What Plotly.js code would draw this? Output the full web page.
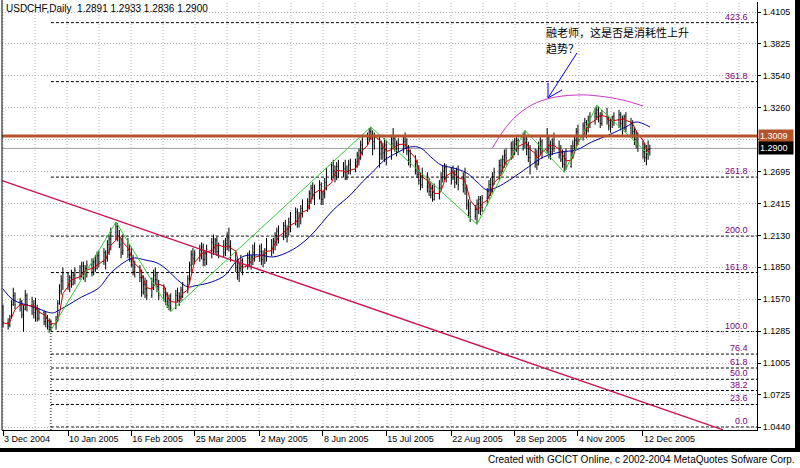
<!DOCTYPE html>
<html><head><meta charset="utf-8">
<script src="https://cdn.plot.ly/plotly-3.0.1.min.js"></script>
<style>html,body{margin:0;padding:0;background:#fff}#chart{width:800px;height:468px}</style>
</head><body><div id="chart"></div><script>
// ---------- DATA (daily USDCHF bars) ----------
const dates = [
'2004-12-03','2004-12-06','2004-12-07','2004-12-08','2004-12-09','2004-12-10','2004-12-13','2004-12-14','2004-12-15','2004-12-16','2004-12-17','2004-12-20','2004-12-21','2004-12-22','2004-12-23','2004-12-24','2004-12-27','2004-12-28','2004-12-29','2004-12-30','2004-12-31',
'2005-01-03','2005-01-04','2005-01-05','2005-01-06','2005-01-07','2005-01-10','2005-01-11','2005-01-12','2005-01-13','2005-01-14','2005-01-17','2005-01-18','2005-01-19','2005-01-20','2005-01-21','2005-01-24','2005-01-25','2005-01-26','2005-01-27','2005-01-28','2005-01-31',
'2005-02-01','2005-02-02','2005-02-03','2005-02-04','2005-02-07','2005-02-08','2005-02-09','2005-02-10','2005-02-11','2005-02-14','2005-02-15','2005-02-16','2005-02-17','2005-02-18','2005-02-21','2005-02-22','2005-02-23','2005-02-24','2005-02-25','2005-02-28',
'2005-03-01','2005-03-02','2005-03-03','2005-03-04','2005-03-07','2005-03-08','2005-03-09','2005-03-10','2005-03-11','2005-03-14','2005-03-15','2005-03-16','2005-03-17','2005-03-18','2005-03-21','2005-03-22','2005-03-23','2005-03-24','2005-03-25','2005-03-28','2005-03-29','2005-03-30','2005-03-31',
'2005-04-01','2005-04-04','2005-04-05','2005-04-06','2005-04-07','2005-04-08','2005-04-11','2005-04-12','2005-04-13','2005-04-14','2005-04-15','2005-04-18','2005-04-19','2005-04-20','2005-04-21','2005-04-22','2005-04-25','2005-04-26','2005-04-27','2005-04-28','2005-04-29',
'2005-05-02','2005-05-03','2005-05-04','2005-05-05','2005-05-06','2005-05-09','2005-05-10','2005-05-11','2005-05-12','2005-05-13','2005-05-16','2005-05-17','2005-05-18','2005-05-19','2005-05-20','2005-05-23','2005-05-24','2005-05-25','2005-05-26','2005-05-27','2005-05-30','2005-05-31',
'2005-06-01','2005-06-02','2005-06-03','2005-06-06','2005-06-07','2005-06-08','2005-06-09','2005-06-10','2005-06-13','2005-06-14','2005-06-15','2005-06-16','2005-06-17','2005-06-20','2005-06-21','2005-06-22','2005-06-23','2005-06-24','2005-06-27','2005-06-28','2005-06-29','2005-06-30',
'2005-07-01','2005-07-04','2005-07-05','2005-07-06','2005-07-07','2005-07-08','2005-07-11','2005-07-12','2005-07-13','2005-07-14','2005-07-15','2005-07-18','2005-07-19','2005-07-20','2005-07-21','2005-07-22','2005-07-25','2005-07-26','2005-07-27','2005-07-28','2005-07-29',
'2005-08-01','2005-08-02','2005-08-03','2005-08-04','2005-08-05','2005-08-08','2005-08-09','2005-08-10','2005-08-11','2005-08-12','2005-08-15','2005-08-16','2005-08-17','2005-08-18','2005-08-19','2005-08-22','2005-08-23','2005-08-24','2005-08-25','2005-08-26','2005-08-29','2005-08-30','2005-08-31',
'2005-09-01','2005-09-02','2005-09-05','2005-09-06','2005-09-07','2005-09-08','2005-09-09','2005-09-12','2005-09-13','2005-09-14','2005-09-15','2005-09-16','2005-09-19','2005-09-20','2005-09-21','2005-09-22','2005-09-23','2005-09-26','2005-09-27','2005-09-28','2005-09-29','2005-09-30',
'2005-10-03','2005-10-04','2005-10-05','2005-10-06','2005-10-07','2005-10-10','2005-10-11','2005-10-12','2005-10-13','2005-10-14','2005-10-17','2005-10-18','2005-10-19','2005-10-20','2005-10-21','2005-10-24','2005-10-25','2005-10-26','2005-10-27','2005-10-28','2005-10-31',
'2005-11-01','2005-11-02','2005-11-03','2005-11-04','2005-11-07','2005-11-08','2005-11-09','2005-11-10','2005-11-11','2005-11-14','2005-11-15','2005-11-16','2005-11-17','2005-11-18','2005-11-21','2005-11-22','2005-11-23','2005-11-24','2005-11-25','2005-11-28','2005-11-29','2005-11-30',
'2005-12-01','2005-12-02','2005-12-05','2005-12-06','2005-12-07','2005-12-08','2005-12-09','2005-12-12','2005-12-13','2005-12-14','2005-12-15','2005-12-16'
];
const opens = [
1.150,1.136,1.134,1.141,1.152,1.160,1.152,1.155,1.143,1.148,1.160,1.152,1.150,1.145,1.148,1.140,1.145,1.137,1.140,1.133,1.130,
1.135,1.139,1.153,1.164,1.173,1.180,1.170,1.176,1.170,1.178,1.182,1.177,1.186,1.180,1.184,1.187,1.181,1.190,1.184,1.195,1.190,
1.198,1.193,1.205,1.210,1.216,1.221,1.212,1.205,1.198,1.200,1.196,1.192,1.187,1.181,1.185,1.176,1.163,1.170,1.166,1.160,
1.170,1.178,1.174,1.168,1.160,1.163,1.155,1.151,1.156,1.149,1.160,1.156,1.159,1.165,1.170,1.175,1.187,1.196,1.193,1.197,1.200,1.203,1.192,
1.197,1.201,1.207,1.205,1.209,1.199,1.204,1.198,1.206,1.211,1.203,1.192,1.185,1.178,1.184,1.191,1.186,1.193,1.189,1.194,1.198,
1.195,1.199,1.192,1.196,1.200,1.208,1.203,1.208,1.213,1.217,1.219,1.222,1.215,1.219,1.225,1.230,1.234,1.226,1.231,1.237,1.241,1.243,
1.250,1.255,1.249,1.255,1.258,1.245,1.250,1.260,1.268,1.275,1.270,1.266,1.274,1.268,1.272,1.264,1.270,1.276,1.272,1.278,1.284,1.288,
1.293,1.298,1.300,1.305,1.302,1.296,1.300,1.285,1.290,1.286,1.293,1.282,1.294,1.299,1.290,1.294,1.290,1.296,1.293,1.288,1.280,
1.276,1.271,1.267,1.262,1.258,1.266,1.256,1.252,1.249,1.245,1.250,1.255,1.264,1.270,1.273,1.266,1.270,1.268,1.260,1.265,1.258,1.263,1.255,
1.240,1.233,1.230,1.236,1.241,1.245,1.238,1.246,1.252,1.258,1.255,1.265,1.269,1.275,1.270,1.280,1.284,1.282,1.290,1.288,1.294,1.297,
1.290,1.300,1.295,1.290,1.282,1.278,1.284,1.276,1.290,1.296,1.288,1.300,1.292,1.287,1.294,1.290,1.284,1.280,1.276,1.281,1.274,
1.287,1.292,1.297,1.305,1.302,1.310,1.313,1.306,1.315,1.318,1.321,1.324,1.318,1.312,1.320,1.316,1.310,1.314,1.318,1.315,1.320,1.312,
1.316,1.318,1.308,1.312,1.305,1.298,1.303,1.294,1.287,1.282,1.285,1.2891
];
const highs = [
1.152,1.140,1.143,1.156,1.167,1.163,1.158,1.156,1.152,1.165,1.162,1.159,1.156,1.158,1.152,1.149,1.147,1.146,1.143,1.140,1.139,
1.142,1.156,1.170,1.178,1.185,1.181,1.178,1.183,1.181,1.185,1.187,1.190,1.190,1.187,1.191,1.193,1.193,1.196,1.199,1.200,1.202,
1.200,1.209,1.214,1.220,1.225,1.224,1.218,1.211,1.214,1.211,1.205,1.202,1.196,1.191,1.187,1.183,1.178,1.176,1.174,1.176,
1.183,1.185,1.181,1.174,1.170,1.167,1.163,1.161,1.162,1.165,1.167,1.163,1.168,1.172,1.178,1.190,1.200,1.202,1.200,1.205,1.207,1.206,1.200,
1.205,1.211,1.214,1.211,1.212,1.207,1.209,1.211,1.216,1.220,1.209,1.200,1.193,1.190,1.196,1.193,1.198,1.200,1.196,1.205,1.207,
1.205,1.206,1.200,1.202,1.211,1.210,1.211,1.216,1.220,1.222,1.225,1.227,1.222,1.229,1.234,1.238,1.237,1.234,1.240,1.245,1.246,1.253,
1.258,1.260,1.258,1.262,1.260,1.253,1.264,1.273,1.278,1.280,1.275,1.278,1.280,1.278,1.280,1.275,1.280,1.281,1.281,1.287,1.290,1.297,
1.302,1.304,1.308,1.309,1.306,1.304,1.302,1.297,1.295,1.299,1.297,1.302,1.308,1.302,1.297,1.299,1.300,1.304,1.299,1.293,1.289,
1.284,1.280,1.275,1.269,1.273,1.269,1.264,1.260,1.258,1.259,1.262,1.269,1.275,1.277,1.276,1.273,1.275,1.271,1.273,1.275,1.269,1.273,1.258,
1.245,1.243,1.240,1.245,1.248,1.248,1.249,1.255,1.262,1.264,1.269,1.273,1.280,1.281,1.284,1.289,1.290,1.296,1.297,1.299,1.302,1.299,
1.304,1.306,1.302,1.296,1.293,1.290,1.289,1.296,1.302,1.298,1.308,1.302,1.297,1.299,1.304,1.297,1.293,1.289,1.287,1.290,1.293,
1.297,1.302,1.308,1.311,1.313,1.317,1.315,1.319,1.322,1.326,1.328,1.327,1.322,1.324,1.326,1.319,1.317,1.319,1.322,1.324,1.322,1.319,
1.320,1.322,1.317,1.315,1.308,1.306,1.304,1.297,1.295,1.293,1.297,1.2933
];
const lows = [
1.132,1.130,1.132,1.140,1.151,1.148,1.146,1.140,1.128,1.147,1.146,1.143,1.140,1.137,1.137,1.138,1.134,1.132,1.130,1.127,1.129,
1.130,1.137,1.152,1.161,1.165,1.165,1.163,1.167,1.169,1.170,1.174,1.176,1.174,1.172,1.176,1.177,1.178,1.181,1.183,1.185,1.187,
1.183,1.190,1.196,1.200,1.209,1.208,1.202,1.193,1.196,1.193,1.190,1.185,1.178,1.176,1.172,1.159,1.161,1.158,1.156,1.158,
1.165,1.170,1.163,1.156,1.155,1.152,1.149,1.147,1.146,1.148,1.154,1.151,1.155,1.158,1.162,1.170,1.181,1.187,1.188,1.190,1.192,1.186,1.186,
1.187,1.193,1.196,1.197,1.195,1.193,1.194,1.195,1.200,1.199,1.190,1.181,1.174,1.172,1.181,1.178,1.183,1.185,1.183,1.187,1.190,
1.190,1.187,1.185,1.188,1.190,1.195,1.197,1.200,1.204,1.206,1.209,1.211,1.207,1.213,1.216,1.222,1.220,1.220,1.223,1.229,1.234,1.236,
1.241,1.245,1.240,1.245,1.240,1.240,1.246,1.253,1.262,1.264,1.260,1.262,1.264,1.265,1.262,1.262,1.267,1.267,1.269,1.273,1.275,1.280,
1.284,1.293,1.296,1.298,1.284,1.289,1.273,1.280,1.280,1.278,1.275,1.280,1.289,1.287,1.283,1.286,1.286,1.290,1.284,1.275,1.273,
1.267,1.264,1.258,1.253,1.255,1.251,1.248,1.246,1.243,1.244,1.245,1.253,1.260,1.262,1.260,1.258,1.262,1.255,1.258,1.253,1.251,1.249,1.236,
1.229,1.225,1.227,1.223,1.232,1.231,1.234,1.240,1.245,1.248,1.251,1.258,1.262,1.267,1.269,1.273,1.275,1.280,1.281,1.284,1.287,1.284,
1.288,1.290,1.284,1.278,1.267,1.273,1.271,1.275,1.284,1.281,1.286,1.281,1.280,1.284,1.287,1.281,1.278,1.273,1.269,1.271,1.273,
1.281,1.287,1.290,1.293,1.297,1.302,1.299,1.304,1.308,1.311,1.315,1.313,1.308,1.310,1.311,1.306,1.304,1.308,1.310,1.308,1.306,1.302,
1.306,1.304,1.301,1.299,1.293,1.290,1.287,1.281,1.278,1.275,1.280,1.2836
];
const closes = [
1.136,1.134,1.141,1.152,1.160,1.152,1.155,1.143,1.148,1.160,1.152,1.150,1.145,1.148,1.140,1.145,1.137,1.140,1.133,1.130,1.135,
1.139,1.153,1.164,1.173,1.180,1.170,1.176,1.170,1.178,1.182,1.177,1.186,1.180,1.184,1.187,1.181,1.190,1.184,1.195,1.190,1.198,
1.193,1.205,1.210,1.216,1.221,1.212,1.205,1.198,1.200,1.196,1.192,1.187,1.181,1.185,1.176,1.163,1.170,1.166,1.160,1.170,
1.178,1.174,1.168,1.160,1.163,1.155,1.151,1.156,1.149,1.160,1.156,1.159,1.165,1.170,1.175,1.187,1.196,1.193,1.197,1.200,1.203,1.192,1.197,
1.201,1.207,1.205,1.209,1.199,1.204,1.198,1.206,1.211,1.203,1.192,1.185,1.178,1.184,1.191,1.186,1.193,1.189,1.194,1.198,1.195,
1.199,1.192,1.196,1.200,1.208,1.203,1.208,1.213,1.217,1.219,1.222,1.215,1.219,1.225,1.230,1.234,1.226,1.231,1.237,1.241,1.243,1.250,
1.255,1.249,1.255,1.258,1.245,1.250,1.260,1.268,1.275,1.270,1.266,1.274,1.268,1.272,1.264,1.270,1.276,1.272,1.278,1.284,1.288,1.293,
1.298,1.300,1.305,1.302,1.296,1.300,1.285,1.290,1.286,1.293,1.282,1.294,1.299,1.290,1.294,1.290,1.296,1.293,1.288,1.280,1.276,
1.271,1.267,1.262,1.258,1.266,1.256,1.252,1.249,1.245,1.250,1.255,1.264,1.270,1.273,1.266,1.270,1.268,1.260,1.265,1.258,1.263,1.255,1.240,
1.233,1.230,1.236,1.241,1.245,1.238,1.246,1.252,1.258,1.255,1.265,1.269,1.275,1.270,1.280,1.284,1.282,1.290,1.288,1.294,1.297,1.290,
1.300,1.295,1.290,1.282,1.278,1.284,1.276,1.290,1.296,1.288,1.300,1.292,1.287,1.294,1.290,1.284,1.280,1.276,1.281,1.274,1.287,
1.292,1.297,1.305,1.302,1.310,1.313,1.306,1.315,1.318,1.321,1.324,1.318,1.312,1.320,1.316,1.310,1.314,1.318,1.315,1.320,1.312,1.316,
1.318,1.308,1.312,1.305,1.298,1.303,1.294,1.287,1.282,1.285,1.289,1.2900
];
// slow moving average (blue)
const blueDates = ['2004-12-03','2004-12-09','2004-12-21','2005-01-01','2005-01-05','2005-01-18','2005-01-28','2005-02-04','2005-02-14','2005-02-18','2005-02-24','2005-03-03','2005-03-09','2005-03-15','2005-03-21','2005-03-25','2005-04-04','2005-04-12','2005-04-18','2005-04-23','2005-05-02','2005-05-10','2005-05-21','2005-05-31','2005-06-14','2005-06-24','2005-07-01','2005-07-07','2005-07-14','2005-07-21','2005-07-29','2005-08-04','2005-08-10','2005-08-16','2005-08-23','2005-08-31','2005-09-06','2005-09-12','2005-09-18','2005-09-25','2005-10-06','2005-10-15','2005-10-25','2005-11-03','2005-11-12','2005-11-22','2005-12-02','2005-12-08','2005-12-16'];
const blueVals = [1.1659,1.1562,1.1500,1.1447,1.1474,1.1588,1.1668,1.1800,1.1915,1.1933,1.1915,1.1889,1.1827,1.1739,1.1677,1.1686,1.1721,1.1783,1.1898,1.1950,1.1959,1.1942,1.2004,1.2118,1.2357,1.2489,1.2604,1.2692,1.2798,1.2860,1.2913,1.2904,1.2825,1.2754,1.2728,1.2683,1.2604,1.2533,1.2560,1.2621,1.2736,1.2825,1.2869,1.2886,1.2957,1.3019,1.3090,1.3134,1.3090];
const fastPeriod = 5;
// zigzag swing points
const zzDates = ['2004-12-30','2005-02-07','2005-03-11','2005-07-06','2005-09-06','2005-10-04','2005-10-27','2005-11-15','2005-12-16'];
const zzVals  = [1.127,1.225,1.146,1.309,1.223,1.306,1.269,1.328,1.2836];
// long red trend line
const trendDates = ['2004-12-02 12:00','2006-01-27 19:00'];
const trendVals  = [1.2615,1.0415];
// magenta hand-drawn arc
const arcDates = ['2005-09-15','2005-09-25','2005-10-05','2005-10-17','2005-11-03','2005-11-16','2005-11-30','2005-12-12'];
const arcVals  = [1.2904,1.3125,1.3257,1.3337,1.3372,1.3363,1.3328,1.3275];
// blue arrow (tail -> head)
const arrowDates = ['2005-11-03 10:00','2005-10-17 12:00'];
const arrowVals  = [1.3743,1.3346];
// Fibonacci expansion
const fibStartDate = '2004-12-31';
const fibZero = 1.0440, fibHundred = 1.1283;
const fibLevels = [0,23.6,38.2,50,61.8,76.4,100,161.8,200,261.8,361.8,423.6];
const fibLabels = ['0.0','23.6','38.2','50.0','61.8','76.4','100.0','161.8','200.0','261.8','361.8','423.6'];
// horizontal lines
const resistLevel = 1.3009;
const bidLevel = 1.2900;
// axis ticks
const yTickVals = [1.4105,1.3825,1.3540,1.3260,1.2975,1.2695,1.2415,1.2130,1.1850,1.1570,1.1285,1.1005,1.0725,1.0440];
const yTickText = ['1.4105','1.3825','1.3540','1.3260','','1.2695','1.2415','1.2130','1.1850','1.1570','1.1285','1.1005','1.0725','1.0440'];
const xTickVals = ['2004-12-03','2005-01-10','2005-02-16','2005-03-25','2005-05-02','2005-06-08','2005-07-15','2005-08-22','2005-09-28','2005-11-04','2005-12-12'];
const xTickText = ['3 Dec 2004','10 Jan 2005','16 Feb 2005','25 Mar 2005','2 May 2005','8 Jun 2005','15 Jul 2005','22 Aug 2005','28 Sep 2005','4 Nov 2005','12 Dec 2005'];
const titleText = 'USDCHF,Daily\u00a0 1.2891 1.2933 1.2836 1.2900';
const noteLine1 = '融老师，这是否是消耗性上升';
const noteLine2 = '趋势？';
const footerText = 'Created with GCICT Online, c 2002-2004 MetaQuotes Sofware Corp.';

// ---------- helpers (layout geometry only) ----------
const T0 = Date.UTC(2004,11,3), PXD = 1.7112;
function pxDate(px){ return new Date(T0 + (px-3)/PXD*864e5).toISOString().slice(0,19).replace('T',' '); }
const PL = 2, PR = 757, PT = 2, PB = 430;
const px2paperX = px => (px-PL)/(PR-PL);
const px2paperY = py => (PB-py)/(PB-PT);
const FONT = 'Liberation Sans, Arial, sans-serif';

// fast moving average (red) from closes
const fastMA = closes.map((c,i)=>{ const s = Math.max(0,i-fastPeriod+1); let t=0; for(let j=s;j<=i;j++) t+=closes[j]; return t/(i-s+1); });

const yMin = 1.04135, yMax = 1.41933;
const fibPrice = l => fibZero + l/100*(fibHundred-fibZero);
const xEnd = pxDate(PR);

const traces = [
  {type:'ohlc', x:dates, open:opens, high:highs, low:lows, close:closes,
   increasing:{line:{color:'#000',width:1}}, decreasing:{line:{color:'#000',width:1}},
   tickwidth:0.35, hoverinfo:'skip', showlegend:false},
  {type:'scatter', mode:'lines', x:blueDates, y:blueVals, line:{color:'#0000a0',width:1,shape:'spline',smoothing:1}, hoverinfo:'skip', showlegend:false},
  {type:'scatter', mode:'lines', x:dates, y:fastMA, line:{color:'#d00000',width:1}, hoverinfo:'skip', showlegend:false},
  {type:'scatter', mode:'lines', x:zzDates, y:zzVals, line:{color:'#33cc33',width:1}, hoverinfo:'skip', showlegend:false},
  {type:'scatter', mode:'lines', x:trendDates, y:trendVals, line:{color:'#cc1048',width:1.3}, hoverinfo:'skip', showlegend:false},
  {type:'scatter', mode:'lines', x:arcDates, y:arcVals, line:{color:'#cc33cc',width:1,shape:'spline',smoothing:1.1}, hoverinfo:'skip', showlegend:false},
  {type:'scatter', mode:'lines', x:arrowDates, y:arrowVals, line:{color:'#0000ff',width:1}, hoverinfo:'skip', showlegend:false}
];

const shapes = [];
// vertical dotted grid every 32px
for (let px = 3; px <= PR; px += 32) {
  shapes.push({type:'line', xref:'x', yref:'paper', x0:pxDate(px), x1:pxDate(px), y0:0, y1:1,
    line:{color:'#b4b4b4', width:1, dash:'1px,2px'}, layer:'below'});
}
// fib lines
fibLevels.forEach(l => shapes.push({type:'line', xref:'x', yref:'y', x0:fibStartDate, x1:xEnd, y0:fibPrice(l), y1:fibPrice(l),
  line:{color:'#000', width:1, dash:'3px,2px'}, layer:'below'}));
shapes.push({type:'line', xref:'x', yref:'y', x0:fibStartDate, x1:fibStartDate, y0:yMin, y1:1.139,
  line:{color:'#000', width:1, dash:'1px,2px'}, layer:'below'});
// bid line & resistance
shapes.push({type:'line', xref:'paper', yref:'y', x0:0, x1:1, y0:bidLevel, y1:bidLevel, line:{color:'#a0a0a0', width:1}, layer:'below'});
shapes.push({type:'line', xref:'paper', yref:'y', x0:0, x1:1, y0:resistLevel, y1:resistLevel, line:{color:'#b5532a', width:3}, layer:'above'});
// arrow head (open V)
shapes.push({type:'path', xref:'x', yref:'y', xsizemode:'pixel', ysizemode:'pixel', xanchor:arrowDates[1], yanchor:arrowVals[1],
  path:'M0,15 L0,0 L14,8', line:{color:'#0000ff', width:1}, layer:'above'});
// frame bits
shapes.push({type:'line', xref:'paper', yref:'paper', x0:0, x1:0, y0:0, y1:px2paperY(0), line:{color:'#000', width:1}});
shapes.push({type:'rect', xref:'paper', yref:'paper', x0:px2paperX(0), x1:px2paperX(800), y0:px2paperY(452), y1:px2paperY(448), fillcolor:'#000', line:{width:0}});
shapes.push({type:'rect', xref:'paper', yref:'paper', x0:px2paperX(795), x1:px2paperX(800), y0:px2paperY(452), y1:px2paperY(0), fillcolor:'#000', line:{width:0}});

const annotations = [];
fibLevels.forEach((l,i) => annotations.push({xref:'paper', yref:'y', x:px2paperX(749), y:fibPrice(l), xanchor:'right', yanchor:'bottom',
  text:fibLabels[i], showarrow:false, font:{family:FONT, size:9, color:'#800080'}, borderpad:0}));
annotations.push({xref:'paper', yref:'y', x:px2paperX(758), y:resistLevel, xanchor:'left', yanchor:'middle', text:resistLevel.toFixed(4),
  showarrow:false, bgcolor:'#b5532a', font:{family:FONT, size:9, color:'#fff'}, borderpad:1, width:32, align:'left'});
annotations.push({xref:'paper', yref:'y', x:px2paperX(758), y:bidLevel, xanchor:'left', yanchor:'middle', text:bidLevel.toFixed(4),
  showarrow:false, bgcolor:'#000', font:{family:FONT, size:9, color:'#fff'}, borderpad:1, width:32, align:'left'});
annotations.push({xref:'paper', yref:'paper', x:px2paperX(4), y:px2paperY(9), xanchor:'left', yanchor:'middle', text:titleText,
  showarrow:false, font:{family:FONT, size:10, color:'#000'}});
annotations.push({xref:'paper', yref:'paper', x:px2paperX(544), y:px2paperY(32), xanchor:'left', yanchor:'middle', text:noteLine1,
  showarrow:false, font:{family:'Noto Sans CJK SC, sans-serif', size:11, color:'#000'}});
annotations.push({xref:'paper', yref:'paper', x:px2paperX(544), y:px2paperY(48), xanchor:'left', yanchor:'middle', text:noteLine2,
  showarrow:false, font:{family:'Noto Sans CJK SC, sans-serif', size:11, color:'#000'}});
annotations.push({xref:'paper', yref:'paper', x:px2paperX(797), y:px2paperY(459), xanchor:'right', yanchor:'middle', text:footerText,
  showarrow:false, font:{family:FONT, size:10, color:'#000'}});

const layout = {
  width:800, height:468, margin:{l:PL, r:800-PR, t:PT, b:468-PB, pad:0},
  paper_bgcolor:'#fff', plot_bgcolor:'#fff', showlegend:false, dragmode:false,
  xaxis:{type:'date', range:[pxDate(PL), xEnd], rangeslider:{visible:false},
    tickmode:'array', tickvals:xTickVals, ticktext:xTickText, ticklabelposition:'outside right',
    ticks:'outside', ticklen:5, tickcolor:'#000', showgrid:false, zeroline:false,
    showline:true, linecolor:'#000', linewidth:1, tickfont:{family:FONT, size:9, color:'#000'}},
  yaxis:{side:'right', range:[yMin, yMax], tickmode:'array', tickvals:yTickVals, ticktext:yTickText,
    ticks:'outside', ticklen:3, tickcolor:'#000', showgrid:true, gridcolor:'#b4b4b4', griddash:'1px,2px',
    zeroline:false, showline:true, linecolor:'#000', linewidth:1, tickfont:{family:FONT, size:9, color:'#000'}},
  shapes:shapes, annotations:annotations
};
Plotly.newPlot('chart', traces, layout, {staticPlot:true, displayModeBar:false});
</script></body></html>
